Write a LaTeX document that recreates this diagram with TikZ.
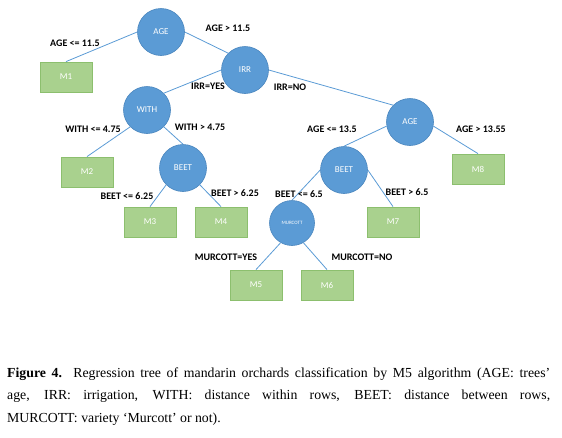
\documentclass[tikz,border=0pt]{standalone}
\usepackage{fontspec}
\setmainfont{Liberation Serif}
\newfontfamily\calib{Carlito}
\definecolor{cblue}{HTML}{5B9BD5}
\definecolor{cblueb}{HTML}{4A86BE}
\definecolor{cgreen}{HTML}{A9D18E}
\definecolor{cgreenb}{HTML}{8CBF6E}
\tikzset{
  splitnode/.style={circle, fill=cblue, draw=cblueb, line width=0.6pt, minimum size=47pt, inner sep=0pt, text=white, font=\calib\fontsize{9}{10}\selectfont},
  leafnode/.style={rectangle, fill=cgreen, draw=cgreenb, line width=0.8pt, minimum width=52pt, minimum height=30pt, inner sep=0pt, text=white, font=\calib\fontsize{9}{10}\selectfont},
  edgelbl/.style={font=\calib\bfseries\fontsize{10}{11}\selectfont, inner sep=0pt},
  conn/.style={draw=cblue, line width=0.8pt}
}
\begin{document}
\begin{tikzpicture}[x=1pt,y=-1pt]
\useasboundingbox (0,0) rectangle (562,437);
% split nodes
\node[splitnode] (age) at (161,32) {AGE};
\node[splitnode] (irr) at (245,70) {IRR};
\node[splitnode] (with) at (147,110) {WITH};
\node[splitnode] (age2) at (410,122) {AGE};
\node[splitnode] (beet1) at (183,168) {BEET};
\node[splitnode] (beet2) at (344,170) {BEET};
\node[splitnode, minimum size=45pt, font=\calib\fontsize{5}{6}\selectfont] (murc) at (292,223) {MURCOTT};
% leaves
\node[leafnode] (m1) at (66,77) {M1};
\node[leafnode] (m2) at (87,172) {M2};
\node[leafnode] (m3) at (150,222) {M3};
\node[leafnode] (m4) at (221,222) {M4};
\node[leafnode] (m5) at (256,285) {M5};
\node[leafnode] (m6) at (327,285) {M6};
\node[leafnode] (m7) at (393,222) {M7};
\node[leafnode] (m8) at (478,169) {M8};
% connectors
\draw[conn] (age.west) -- (m1.north);
\draw[conn] (age.east) -- (irr.north west);
\draw[conn] (irr.west) -- (with.north east);
\draw[conn] (irr.east) -- (age2.north west);
\draw[conn] (with.south west) -- (m2.north);
\draw[conn] (with.south east) -- (beet1.north);
\draw[conn] (beet1.south west) -- (m3.north);
\draw[conn] (beet1.south east) -- (m4.north);
\draw[conn] (age2.190) -- (beet2.north);
\draw[conn] (age2.350) -- (m8.north);
\draw[conn] (beet2.west) -- (murc.north);
\draw[conn] (beet2.east) -- (m7.north);
\draw[conn] (murc.240) -- (m5.north);
\draw[conn] (murc.300) -- (m6.north);
% labels
\node[edgelbl] (l1) at (75,43) {AGE <= 11.5};
\node[edgelbl] (l2) at (228,28) {AGE > 11.5};
\node[edgelbl] (l3) at (208,86) {IRR=YES};
\node[edgelbl] (l4) at (290,87) {IRR=NO};
\node[edgelbl] (l5) at (93,129) {WITH <= 4.75};
\node[edgelbl] (l6) at (200,127) {WITH > 4.75};
\node[edgelbl] (l7) at (332,129) {AGE <= 13.5};
\node[edgelbl] (l8) at (481,129) {AGE > 13.55};
\node[edgelbl] (l9) at (127,196) {BEET <= 6.25};
\node[edgelbl] (l10) at (235,193) {BEET > 6.25};
\node[edgelbl] (l11) at (299,194) {BEET <= 6.5};
\node[edgelbl] (l12) at (407,192) {BEET > 6.5};
\node[edgelbl] (l13) at (226,257) {MURCOTT=YES};
\node[edgelbl] (l14) at (362,257) {MURCOTT=NO};
% caption
\node[anchor=base west, inner sep=0pt, text width=543pt, align=justify, font=\fontsize{13.8}{22.5}\selectfont] (cap) at (7,377)
{\hyphenpenalty=10000\textbf{Figure 4.} Regression tree of mandarin orchards classification by M5 algorithm (AGE: trees' \linebreak age, IRR: irrigation, WITH: distance within rows, BEET: distance between rows, \linebreak MURCOTT: variety `Murcott' or not).};
\end{tikzpicture}
\end{document}
